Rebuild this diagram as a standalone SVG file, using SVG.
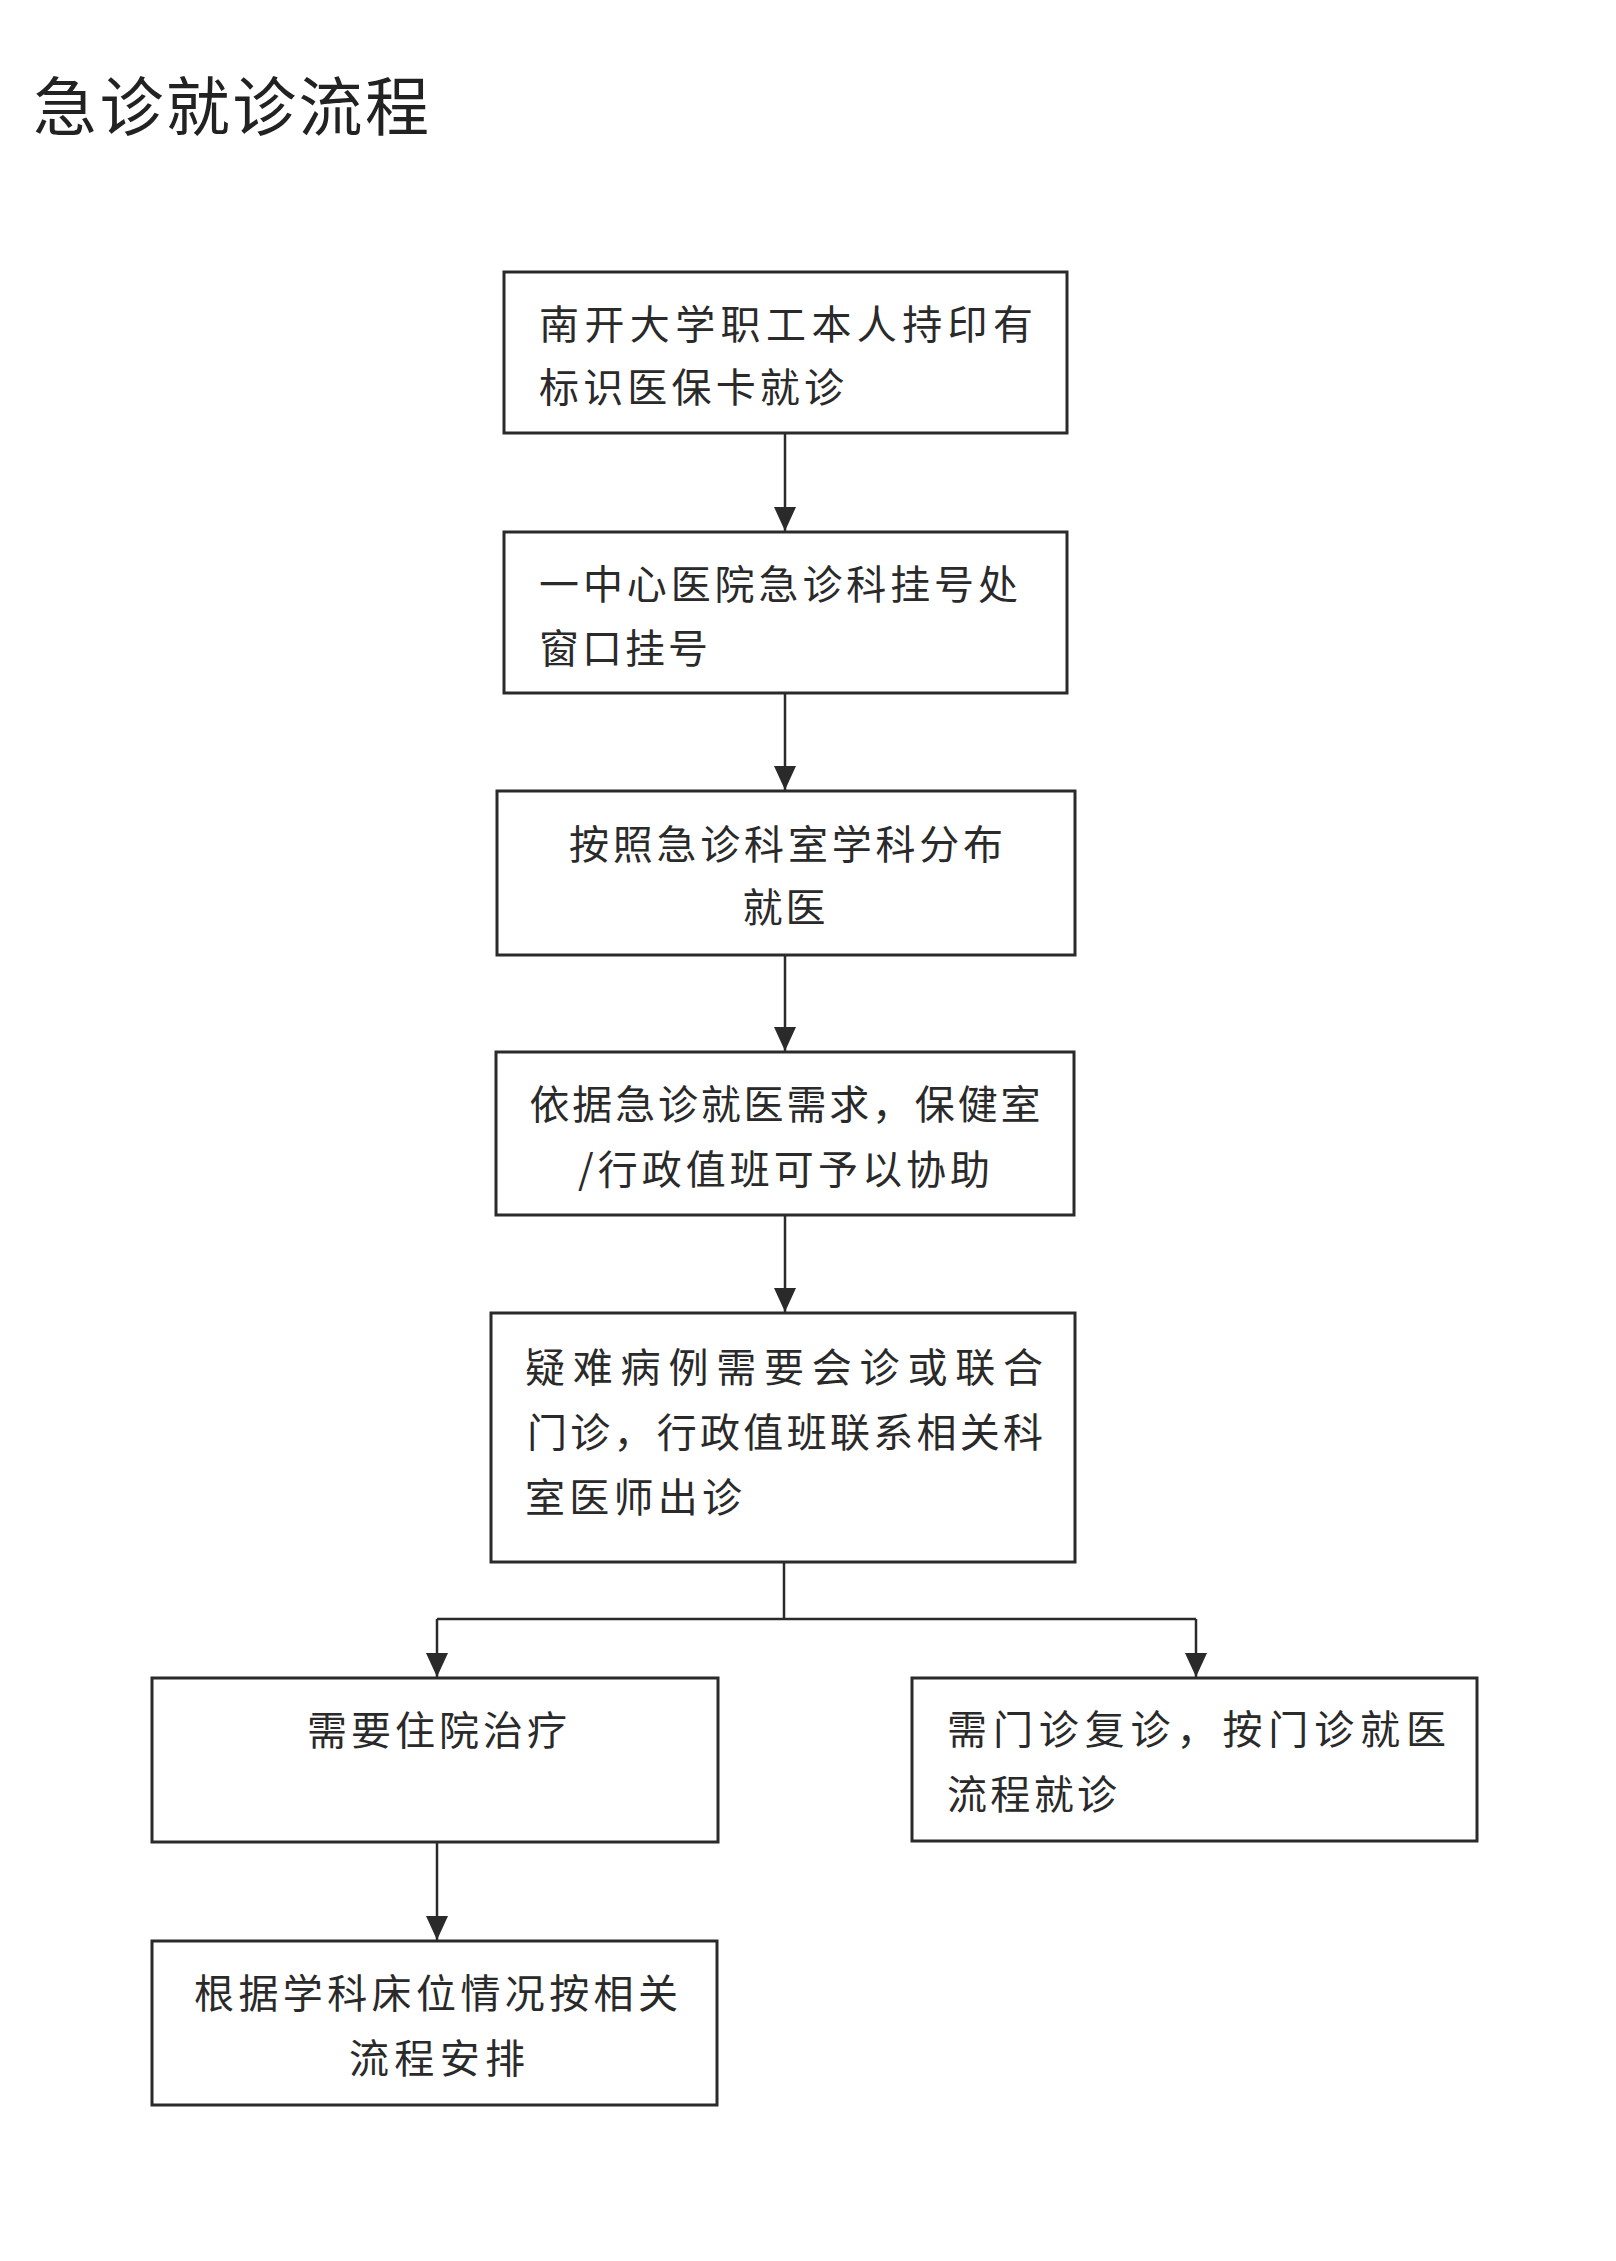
<svg xmlns="http://www.w3.org/2000/svg" width="1616" height="2261" viewBox="0 0 1616 2261">
<style>
.bg{fill:#ffffff}
.box{fill:none;stroke:#2a2a2a;stroke-width:3}
.t{font-family:"Noto Sans CJK SC","Noto Sans CJK TC",sans-serif;font-size:40px;fill:#2a2a2a}
.c{text-anchor:middle}
.title{font-family:"Noto Sans CJK SC","Noto Sans CJK TC",sans-serif;font-size:64px;fill:#222;font-weight:400}
.ln{fill:none;stroke:#2a2a2a;stroke-width:2.5}
</style>
<defs>
<marker id="arr" viewBox="0 0 24 22" refX="24" refY="11" markerWidth="24" markerHeight="22" markerUnits="userSpaceOnUse" orient="auto">
<path d="M0,0 L24,11 L0,22 z" fill="#2a2a2a"/>
</marker>
</defs>
<rect class="bg" x="0" y="0" width="1616" height="2261"/>
<text id="title" class="title" x="33" y="130" textLength="396" lengthAdjust="spacing">急诊就诊流程</text>

<g id="connectors">
<path class="ln" d="M785,433 V531" marker-end="url(#arr)"/>
<path class="ln" d="M785,693 V790" marker-end="url(#arr)"/>
<path class="ln" d="M785,955 V1051" marker-end="url(#arr)"/>
<path class="ln" d="M785,1215 V1312" marker-end="url(#arr)"/>
<path class="ln" d="M784,1562 V1619 M437,1619 H1196"/>
<path class="ln" d="M437,1619 V1677" marker-end="url(#arr)"/>
<path class="ln" d="M1196,1619 V1677" marker-end="url(#arr)"/>
<path class="ln" d="M437,1842 V1940" marker-end="url(#arr)"/>
</g>

<g id="n1">
<rect class="box" x="504" y="272" width="563" height="161"/>
<text class="t" x="539" y="339" textLength="494" lengthAdjust="spacing">南开大学职工本人持印有</text>
<text class="t" x="539" y="402" textLength="305" lengthAdjust="spacing">标识医保卡就诊</text>
</g>

<g id="n2">
<rect class="box" x="504" y="532" width="563" height="161"/>
<text class="t" x="539" y="599" textLength="479" lengthAdjust="spacing">一中心医院急诊科挂号处</text>
<text class="t" x="539" y="663" textLength="169" lengthAdjust="spacing">窗口挂号</text>
</g>

<g id="n3">
<rect class="box" x="497" y="791" width="578" height="164"/>
<text class="t c" x="786" y="859" textLength="434" lengthAdjust="spacing">按照急诊科室学科分布</text>
<text class="t c" x="784" y="922" textLength="83" lengthAdjust="spacing">就医</text>
</g>

<g id="n4">
<rect class="box" x="496" y="1052" width="578" height="163"/>
<text class="t c" x="785" y="1119" textLength="511" lengthAdjust="spacing">依据急诊就医需求，保健室</text>
<text class="t c" x="784" y="1184" textLength="412" lengthAdjust="spacing">/行政值班可予以协助</text>
</g>

<g id="n5">
<rect class="box" x="491" y="1313" width="584" height="249"/>
<text class="t" x="525" y="1382" textLength="518" lengthAdjust="spacing">疑难病例需要会诊或联合</text>
<text class="t" x="527" y="1447" textLength="516" lengthAdjust="spacing">门诊，行政值班联系相关科</text>
<text class="t" x="525" y="1512" textLength="217" lengthAdjust="spacing">室医师出诊</text>
</g>

<g id="n6">
<rect class="box" x="152" y="1678" width="566" height="164"/>
<text class="t c" x="437" y="1745" textLength="260" lengthAdjust="spacing">需要住院治疗</text>
</g>

<g id="n7">
<rect class="box" x="912" y="1678" width="565" height="163"/>
<text class="t" x="947" y="1744" textLength="499" lengthAdjust="spacing">需门诊复诊，按门诊就医</text>
<text class="t" x="947" y="1809" textLength="170" lengthAdjust="spacing">流程就诊</text>
</g>

<g id="n8">
<rect class="box" x="152" y="1941" width="565" height="164"/>
<text class="t c" x="436" y="2008" textLength="484" lengthAdjust="spacing">根据学科床位情况按相关</text>
<text class="t c" x="437" y="2073" textLength="176" lengthAdjust="spacing">流程安排</text>
</g>
</svg>
